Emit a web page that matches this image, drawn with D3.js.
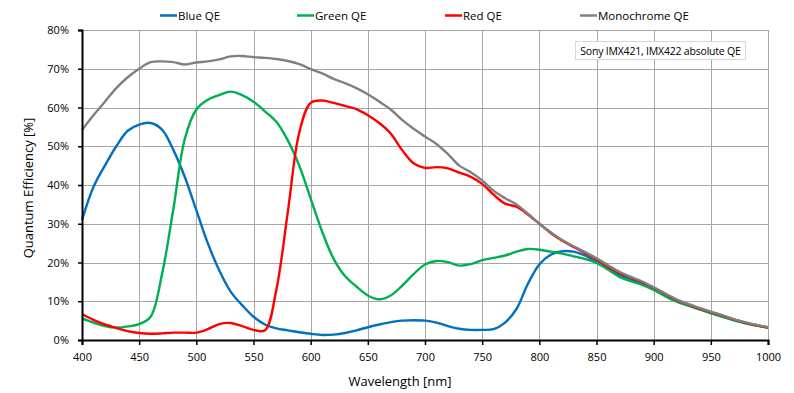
<!DOCTYPE html>
<html>
<head>
<meta charset="utf-8">
<script src="https://cdn.jsdelivr.net/npm/d3@7.9.0/dist/d3.min.js"></script>
<style>
  body { margin: 0; background: #fff; }
  svg { display: block; font-family: 'Open Sans', 'Noto Sans', sans-serif; }
</style>
</head>
<body>
<svg id="chart" width="794" height="393"></svg>
<script>
// wavelength in nm, QE in %
const wavelengths = d3.range(400, 1001, 10);

const blueQE = [31, 39.5, 45, 50, 54, 55.6, 56, 54.3, 49, 42,
  33.5, 25, 18, 12.5, 9, 6, 4, 3, 2.5, 2,
  1.6, 1.3, 1.4, 1.8, 2.5, 3.3, 4, 4.6, 5, 5.1,
  5, 4.5, 3.6, 2.9, 2.6, 2.6, 2.8, 4.5, 8, 14.5,
  19.5, 22, 22.9, 22.8, 21.8, 20.1, 18.6, 16.8, 15.6, 14.5,
  13.1, 11.5, 10.1, 9, 8, 7, 6.1, 5.2, 4.4, 3.8, 3.2];

const greenQE = [5.6, 4.5, 3.6, 3.2, 3.5, 4.1, 6, 17, 34, 52,
  59.5, 62, 63.2, 64.1, 63.2, 61.5, 59, 56.3, 51.5, 45,
  36.5, 28, 21, 16.5, 13.8, 11.5, 10.5, 11.5, 14, 17,
  19.5, 20.4, 20.1, 19.2, 19.6, 20.6, 21.2, 21.8, 22.8, 23.5,
  23.3, 22.8, 22.3, 21.6, 20.9, 19.9, 18.2, 16.3, 15.2, 14.2,
  12.9, 11.3, 9.9, 8.9, 7.9, 6.9, 6, 5.1, 4.3, 3.7, 3.2];

const redQE = [6.7, 5.2, 4, 3.1, 2.3, 1.8, 1.6, 1.7, 1.9, 1.9,
  1.9, 2.8, 4.1, 4.4, 3.6, 2.6, 2.5, 13, 33, 53.5,
  61.2, 61.8, 61.2, 60.4, 59.6, 58, 56, 53.3, 49, 45.6,
  44.4, 44.6, 44.3, 43.2, 42.1, 40.3, 37.5, 35.2, 34.4, 32.4,
  30, 27.6, 25.6, 24, 22.4, 20.8, 18.9, 17.3, 16.1, 14.9,
  13.5, 11.9, 10.3, 9.2, 8.1, 7.2, 6.3, 5.3, 4.5, 3.8, 3.2];

const monoQE = [54.2, 58, 61.5, 65, 67.8, 70, 71.7, 71.9, 71.7, 71.1,
  71.6, 71.9, 72.4, 73.2, 73.3, 73, 72.8, 72.5, 72, 71.2,
  69.9, 68.8, 67.4, 66.3, 65, 63.4, 61.5, 59.5, 56.8, 54.5,
  52.5, 50.6, 48, 45, 43.3, 41.2, 38.5, 36.6, 35, 32.6,
  30, 27.8, 25.8, 24.2, 22.7, 21.1, 19.3, 17.6, 16.3, 15.1,
  13.6, 12, 10.5, 9.3, 8.3, 7.3, 6.4, 5.4, 4.6, 3.9, 3.3];

const seriesNames = ['Blue QE', 'Green QE', 'Red QE', 'Monochrome QE'];
const seriesColors = ['#0070c0', '#00b050', '#ff0000', '#808080'];
const seriesValues = [blueQE, greenQE, redQE, monoQE];

const xTicks = d3.range(400, 1001, 50);
const yTicks = d3.range(0, 81, 10);

const margin = { top: 30, right: 26, bottom: 53, left: 82 };
const width = 794, height = 393;

const svg = d3.select('#chart');

const x = d3.scaleLinear().domain([400, 1000]).range([margin.left, width - margin.right]);
const y = d3.scaleLinear().domain([0, 80]).range([height - margin.bottom, margin.top]);

// grid
const grid = svg.append('g').attr('stroke', '#a6a6a6').attr('stroke-width', 1);
xTicks.forEach((t) => {
  grid.append('line')
    .attr('x1', Math.round(x(t)) + 0.5).attr('x2', Math.round(x(t)) + 0.5)
    .attr('y1', y(80)).attr('y2', y(0));
});
yTicks.forEach((t) => {
  grid.append('line')
    .attr('x1', x(400)).attr('x2', x(1000))
    .attr('y1', Math.round(y(t)) + 0.5).attr('y2', Math.round(y(t)) + 0.5);
});

// series lines
const line = d3.line()
  .x((d, i) => x(wavelengths[i]))
  .y((d) => y(d))
  .curve(d3.curveCatmullRom.alpha(0.5));

seriesValues.forEach((vals, i) => {
  svg.append('path')
    .attr('d', line(vals))
    .attr('fill', 'none')
    .attr('stroke', seriesColors[i])
    .attr('stroke-width', 2.4)
    .attr('stroke-linejoin', 'round');
});

// axes
const xAxis = svg.append('g')
  .attr('transform', `translate(0,${y(0)})`)
  .call(d3.axisBottom(x).tickValues(xTicks).tickSize(5).tickPadding(8).tickFormat(d3.format('d')));
const yAxis = svg.append('g')
  .attr('transform', `translate(${x(400)},0)`)
  .call(d3.axisLeft(y).tickValues(yTicks).tickSize(4).tickPadding(9).tickFormat((d) => d + '%'));

[xAxis, yAxis].forEach((ax) => {
  ax.select('.domain').attr('stroke', '#000').attr('stroke-width', 2);
  ax.selectAll('.tick line').attr('stroke', '#000').attr('stroke-width', 1.5);
  ax.selectAll('.tick text').attr('fill', '#000')
    .style('font-size', '11px').style('font-family', "'Open Sans', sans-serif");
});

// axis titles
svg.append('text')
  .attr('x', 400)
  .attr('y', 386)
  .attr('text-anchor', 'middle')
  .style('font-size', '13px')
  .text('Wavelength [nm]');

svg.append('text')
  .attr('transform', `translate(33,188) rotate(-90)`)
  .attr('text-anchor', 'middle')
  .style('font-size', '13px')
  .text('Quantum Efficiency [%]');

// legend
const legendX = [160, 297, 445, 580];
const legend = svg.append('g');
seriesNames.forEach((name, i) => {
  legend.append('line')
    .attr('x1', legendX[i]).attr('x2', legendX[i] + 17)
    .attr('y1', 15.5).attr('y2', 15.5)
    .attr('stroke', seriesColors[i]).attr('stroke-width', 2.5);
  legend.append('text')
    .attr('x', legendX[i] + 18)
    .attr('y', 20)
    .style('font-size', '11.5px')
    .text(name);
});

// annotation
const note = svg.append('g');
note.append('rect')
  .attr('x', 575.5).attr('y', 41.5).attr('width', 170).attr('height', 18)
  .attr('fill', '#fff').attr('stroke', '#d9d9d9');
note.append('text')
  .attr('x', 660.5).attr('y', 54.5)
  .attr('text-anchor', 'middle')
  .style('font-size', '10.5px')
  .style('letter-spacing', '-0.2px')
  .text('Sony IMX421, IMX422 absolute QE');
</script>
</body>
</html>
